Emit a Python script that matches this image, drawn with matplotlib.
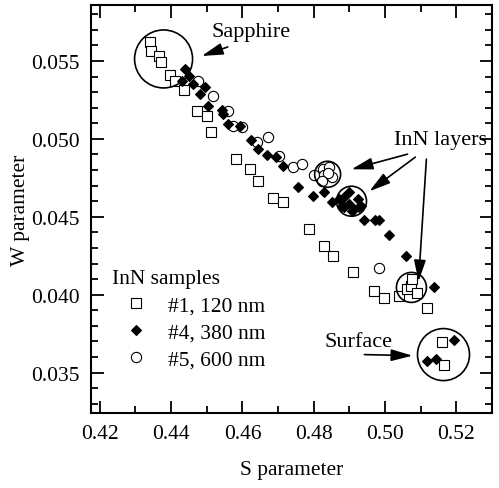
#!/usr/bin/env python3
"""S-W positron annihilation parameters for InN samples."""

import matplotlib
matplotlib.use("Agg")
import matplotlib.pyplot as plt
from matplotlib.patches import Ellipse
from matplotlib.ticker import MultipleLocator

# sample #1, 120 nm (open squares)
s1 = [0.4340, 0.4343, 0.4365, 0.4371, 0.4396, 0.4410, 0.4435, 0.4472, 0.4500,
      0.4511, 0.4581, 0.4620, 0.4645, 0.4687, 0.4715, 0.4788, 0.4830, 0.4855,
      0.4909, 0.4970, 0.4998, 0.5040, 0.5063, 0.5074, 0.5077, 0.5091, 0.5119,
      0.5161, 0.5166]
w1 = [0.05622, 0.05564, 0.05532, 0.05494, 0.05410, 0.05371, 0.05314, 0.05178,
      0.05146, 0.05043, 0.04870, 0.04805, 0.04728, 0.04619, 0.04593, 0.04420,
      0.04310, 0.04246, 0.04143, 0.04021, 0.03982, 0.03989, 0.04034, 0.04053,
      0.04098, 0.04014, 0.03918, 0.03699, 0.03551]

# sample #4, 380 nm (filled diamonds)
s4 = [0.4438, 0.4449, 0.4432, 0.4461, 0.4494, 0.4480, 0.4503, 0.4542, 0.4545,
      0.4559, 0.4592, 0.4623, 0.4645, 0.4668, 0.4693, 0.4715, 0.4755, 0.4797,
      0.4830, 0.4850, 0.4878, 0.4900, 0.4906, 0.4928, 0.4942, 0.4973, 0.4982,
      0.5012, 0.5060, 0.5138, 0.4886, 0.4900, 0.4923, 0.4914, 0.4886, 0.4934,
      0.4872, 0.5194, 0.5119, 0.5144]
w4 = [0.05449, 0.05404, 0.05371, 0.05352, 0.05333, 0.05288, 0.05211, 0.05185,
      0.05159, 0.05095, 0.05082, 0.04992, 0.04934, 0.04895, 0.04883, 0.04825,
      0.04690, 0.04632, 0.04658, 0.04593, 0.04568, 0.04658, 0.04535, 0.04561,
      0.04478, 0.04478, 0.04478, 0.04381, 0.04246, 0.04047, 0.04625, 0.04580,
      0.04613, 0.04548, 0.04561, 0.04567, 0.04613, 0.03712, 0.03577, 0.03590]

# sample #5, 600 nm (open circles)
s5 = [0.4475, 0.4517, 0.4561, 0.4573, 0.4598, 0.4640, 0.4671, 0.4704, 0.4741,
      0.4766, 0.4802, 0.4825, 0.4844, 0.4830, 0.4850, 0.4839, 0.4822, 0.4982]
w5 = [0.05371, 0.05275, 0.05178, 0.05082, 0.05076, 0.04979, 0.05011, 0.04889,
      0.04818, 0.04838, 0.04767, 0.04805, 0.04818, 0.04767, 0.04754, 0.04780,
      0.04728, 0.04169]

labels = ["#1, 120 nm", "#4, 380 nm", "#5, 600 nm"]

# highlighted regions: (S, W, radius in px)
rings = [(0.4379, 0.05513, 29), (0.4839, 0.04773, 13), (0.4906, 0.04600, 15),
         (0.5074, 0.04047, 15), (0.5164, 0.03616, 26)]

XLIM = (0.4175, 0.53)
YLIM = (0.0324, 0.0586)
FS = 15.5

plt.rcParams["font.family"] = ["Liberation Serif", "DejaVu Serif"]

fig = plt.figure(figsize=(4.99, 4.89), dpi=100)
ax = fig.add_axes([0.182, 0.153, 0.804, 0.835])

mk = dict(linestyle="none", markeredgewidth=0.8)
ax.plot(s1, w1, marker="s", ms=7.4, mfc="white", mec="black", label=labels[0], zorder=3, **mk)
ax.plot(s4, w4, marker="D", ms=5.6, mfc="black", mec="black", label=labels[1], zorder=4, **mk)
ax.plot(s5, w5, marker="o", ms=7.4, mfc="white", mec="black", label=labels[2], zorder=3, **mk)

ax.set_xlim(*XLIM)
ax.set_ylim(*YLIM)

# px per data unit, to keep the rings round
bbox = ax.get_window_extent()
px_x = bbox.width / (XLIM[1] - XLIM[0])
px_y = bbox.height / (YLIM[1] - YLIM[0])
for cx, cy, r in rings:
    ax.add_patch(Ellipse((cx, cy), 2 * r / px_x, 2 * r / px_y, fill=False,
                         ec="black", lw=1.2, zorder=5))

arrow = dict(arrowstyle="-|>,head_length=1.3,head_width=0.36", color="black",
             lw=1.2, shrinkA=0, shrinkB=0)
ax.annotate("", xy=(0.4486, 0.05532), xytext=(0.4559, 0.05590), arrowprops=arrow)
ax.text(0.4514, 0.05686, "Sapphire", fontsize=16, va="center", ha="left")

ax.text(0.5026, 0.04998, "InN layers", fontsize=16, va="center", ha="left")
ax.annotate("", xy=(0.4906, 0.04805), xytext=(0.5063, 0.04902), arrowprops=arrow)
ax.annotate("", xy=(0.4956, 0.04664), xytext=(0.5085, 0.04883), arrowprops=arrow)
ax.annotate("", xy=(0.5094, 0.04085), xytext=(0.5116, 0.04870), arrowprops=arrow)

ax.text(0.4830, 0.03699, "Surface", fontsize=16, va="center", ha="left")
ax.annotate("", xy=(0.5077, 0.03609), xytext=(0.4942, 0.03616), arrowprops=arrow)

ax.xaxis.set_major_locator(MultipleLocator(0.02))
ax.xaxis.set_minor_locator(MultipleLocator(0.01))
ax.yaxis.set_major_locator(MultipleLocator(0.005))
ax.yaxis.set_minor_locator(MultipleLocator(0.001))
ax.xaxis.set_major_formatter(plt.FuncFormatter(lambda v, p: f"{v:.2f}"))
ax.yaxis.set_major_formatter(plt.FuncFormatter(lambda v, p: f"{v:.3f}"))
ax.tick_params(which="both", direction="in", top=True, right=True, width=1.3,
               labelsize=FS)
ax.tick_params(which="major", length=9, pad=8)
ax.tick_params(which="minor", length=5)
for sp in ax.spines.values():
    sp.set_linewidth(1.5)

ax.set_xlabel("S parameter", fontsize=FS, labelpad=12)
ax.set_ylabel("W parameter", fontsize=FS, labelpad=1)

leg = ax.legend(title="InN samples", loc="upper left", bbox_to_anchor=(0.052, 0.353),
                frameon=False, fontsize=FS, title_fontsize=FS, handletextpad=0.3,
                labelspacing=0.33, borderaxespad=0, borderpad=0, handlelength=2.3)
leg._legend_box.align = "left"

fig.savefig("out.png", dpi=100)
